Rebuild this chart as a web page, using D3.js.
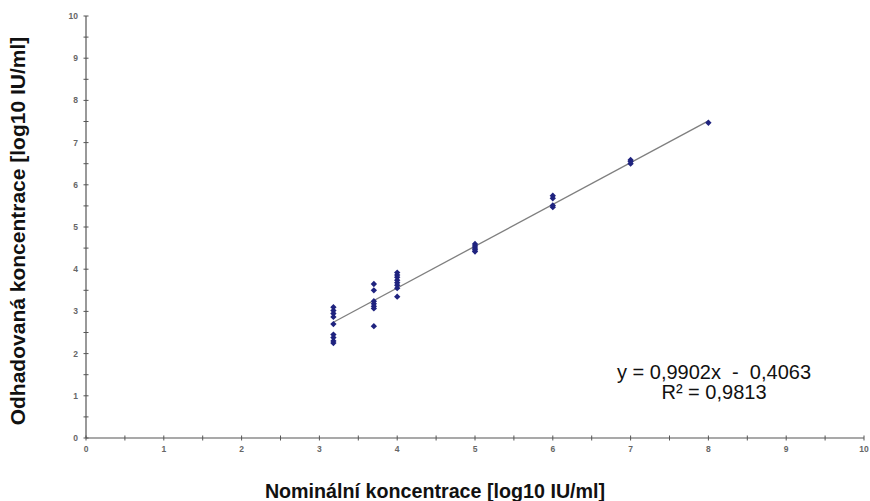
<!DOCTYPE html>
<html>
<head>
<meta charset="utf-8">
<script src="https://cdn.jsdelivr.net/npm/d3@7"></script>
<style>
  html, body { margin: 0; padding: 0; background: #fff; }
  svg { display: block; }
</style>
</head>
<body>
<svg id="chart" width="870" height="501"></svg>
<script>
// ---- data ----
const xValues = [
  3.18,3.18,3.18,3.18,3.18,3.18,3.18,3.18,3.18,
  3.70,3.70,3.70,3.70,3.70,3.70,3.70,
  4.00,4.00,4.00,4.00,4.00,4.00,4.00,4.00,
  5.00,5.00,5.00,5.00,5.00,
  6.00,6.00,6.00,6.00,
  7.00,7.00,7.00,
  8.00
];
const yValues = [
  3.10,3.02,2.95,2.87,2.70,2.45,2.38,2.30,2.25,
  3.65,3.50,3.24,3.18,3.12,3.07,2.65,
  3.92,3.86,3.81,3.74,3.68,3.62,3.55,3.35,
  4.60,4.55,4.50,4.46,4.42,
  5.74,5.68,5.51,5.47,
  6.59,6.55,6.50,
  7.47
];
const xTicks = [0,1,2,3,4,5,6,7,8,9,10];
const yTicks = [0,1,2,3,4,5,6,7,8,9,10];
const slope = 0.9902, intercept = -0.4063;
const equationLines = ["y = 0,9902x  -  0,4063", "R² = 0,9813"];
const xTitle = "Nominální koncentrace [log10 IU/ml]";
const yTitle = "Odhadovaná koncentrace [log10 IU/ml]";

// ---- layout ----
const svg = d3.select("#chart");
const x = d3.scaleLinear().domain([0, 10]).range([86, 864]);
const y = d3.scaleLinear().domain([0, 10]).range([438, 16]);
const axisColor = "#555";
const labelFont = "'Liberation Sans', Arial, sans-serif";

// minor + major ticks (crossing the axes)
const minorX = d3.range(0, 10.01, 0.5);
const minorY = d3.range(0, 10.01, 0.5);
svg.append("g").selectAll("line").data(minorX).join("line")
  .attr("x1", d => x(d)).attr("x2", d => x(d))
  .attr("y1", y(0) - 2.5).attr("y2", y(0) + 2.5)
  .attr("stroke", axisColor).attr("stroke-width", 1);
svg.append("g").selectAll("line").data(minorY).join("line")
  .attr("y1", d => y(d)).attr("y2", d => y(d))
  .attr("x1", x(0) - 2.5).attr("x2", x(0) + 2.5)
  .attr("stroke", axisColor).attr("stroke-width", 1);

// axis lines
svg.append("line").attr("x1", x(0)).attr("x2", x(10)).attr("y1", y(0)).attr("y2", y(0))
  .attr("stroke", axisColor).attr("stroke-width", 1.2);
svg.append("line").attr("x1", x(0)).attr("x2", x(0)).attr("y1", y(0)).attr("y2", y(10))
  .attr("stroke", axisColor).attr("stroke-width", 1.2);

// tick labels
svg.append("g").selectAll("text").data(xTicks).join("text")
  .attr("x", d => x(d)).attr("y", y(0) + 14)
  .attr("text-anchor", "middle")
  .attr("font-family", labelFont).attr("font-size", 8.5).attr("font-weight", "bold")
  .attr("fill", "#666").text(d => d);
svg.append("g").selectAll("text").data(yTicks).join("text")
  .attr("x", x(0) - 8).attr("y", d => y(d) + 3)
  .attr("text-anchor", "end")
  .attr("font-family", labelFont).attr("font-size", 8.5).attr("font-weight", "bold")
  .attr("fill", "#666").text(d => d);

// trendline
const xMin = d3.min(xValues), xMax = d3.max(xValues);
svg.append("line")
  .attr("x1", x(xMin)).attr("y1", y(slope * xMin + intercept))
  .attr("x2", x(xMax)).attr("y2", y(slope * xMax + intercept))
  .attr("stroke", "#7f7f7f").attr("stroke-width", 1.3);

// points (diamonds = rotated squares)
const square = d3.symbol().type(d3.symbolSquare).size(20);
svg.append("g").selectAll("path").data(xValues.map((v, i) => [v, yValues[i]])).join("path")
  .attr("d", square)
  .attr("transform", d => `translate(${x(d[0])},${y(d[1])}) rotate(45)`)
  .attr("fill", "#1f237f");

// equation
svg.append("g").selectAll("text").data(equationLines).join("text")
  .attr("x", 714).attr("y", (d, i) => 379 + i * 20)
  .attr("text-anchor", "middle")
  .attr("font-family", labelFont).attr("font-size", 20)
  .attr("fill", "#111").attr("xml:space", "preserve")
  .style("white-space", "pre")
  .text(d => d);

// axis titles
svg.append("text")
  .attr("x", 435).attr("y", 498)
  .attr("text-anchor", "middle")
  .attr("font-family", labelFont).attr("font-size", 19.7).attr("font-weight", "bold")
  .attr("fill", "#111").text(xTitle);
svg.append("text")
  .attr("transform", "translate(25,231) rotate(-90)")
  .attr("text-anchor", "middle")
  .attr("font-family", labelFont).attr("font-size", 21).attr("font-weight", "bold")
  .attr("fill", "#111").text(yTitle);
</script>
</body>
</html>
